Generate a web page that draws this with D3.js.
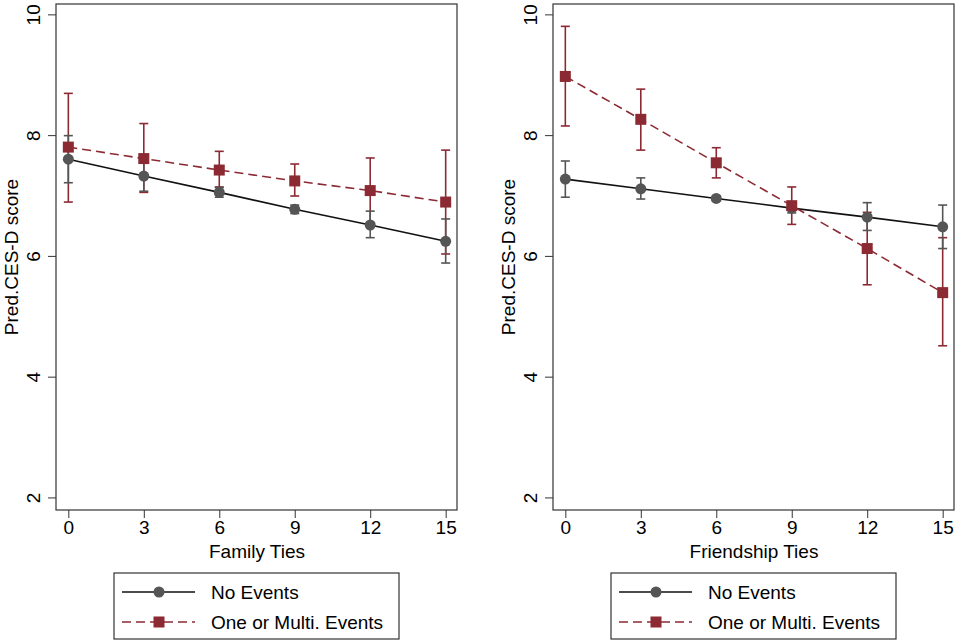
<!DOCTYPE html>
<html>
<head>
<meta charset="utf-8">
<script src="https://cdn.jsdelivr.net/npm/d3@7"></script>
<style>
    body { margin: 0; background: #fff; }
    text { font-family: "Liberation Sans", Arial, sans-serif; fill: #000; }
</style>
</head>
<body>
<script>
// Données
const ties = [0, 3, 6, 9, 12, 15];
const yTicks = [2, 4, 6, 8, 10];
const seriesNames = ["No Events", "One or Multi. Events"];

// Liens familiaux
const familyNoEv = [7.61, 7.33, 7.06, 6.78, 6.52, 6.25];
const familyNoEvLo = [7.22, 7.08, 6.98, 6.71, 6.31, 5.89];
const familyNoEvHi = [8.00, 7.58, 7.14, 6.85, 6.75, 6.62];
const familyEv = [7.81, 7.62, 7.43, 7.25, 7.09, 6.90];
const familyEvLo = [6.90, 7.06, 7.15, 7.00, 6.55, 6.04];
const familyEvHi = [8.70, 8.20, 7.74, 7.53, 7.63, 7.76];

// Liens d'amitié
const friendNoEv = [7.28, 7.12, 6.96, 6.80, 6.65, 6.49];
const friendNoEvLo = [6.98, 6.95, 6.92, 6.72, 6.43, 6.13];
const friendNoEvHi = [7.58, 7.30, 7.00, 6.88, 6.89, 6.85];
const friendEv = [8.98, 8.27, 7.55, 6.84, 6.13, 5.40];
const friendEvLo = [8.16, 7.76, 7.30, 6.53, 5.53, 4.52];
const friendEvHi = [9.81, 8.77, 7.80, 7.15, 6.73, 6.31];

const grayColor = "#555555";
const redColor = "#8C2A33";
const fontSize = 19;

const svg = d3.select("body").append("svg").attr("width", 957).attr("height", 642);

function makeSeries(vals, lo, hi) {
    return ties.map((t, i) => ({ x: t, y: vals[i], lo: lo[i], hi: hi[i] }));
}

function drawPanel(left, xTitle, noEv, ev) {
    const frame = { left: left, right: left + 401, top: 4, bottom: 510 };

    const x = d3.scaleLinear().domain([-0.49, 15.45]).range([frame.left, frame.right]);
    const y = d3.scaleLinear().domain([1.8, 10.18]).range([frame.bottom, frame.top]);

    const g = svg.append("g");

    // Cadre
    g.append("rect")
        .attr("x", frame.left).attr("y", frame.top)
        .attr("width", frame.right - frame.left).attr("height", frame.bottom - frame.top)
        .attr("fill", "none").attr("stroke", "#333").attr("stroke-width", 1.2);

    // Axes
    const yAxis = d3.axisLeft(y).tickValues(yTicks).tickSize(8).tickPadding(4);
    const yG = g.append("g").attr("transform", `translate(${frame.left},0)`).call(yAxis);
    yG.select(".domain").remove();
    yG.selectAll("line").attr("stroke", "#333");
    yG.selectAll("text")
        .attr("font-size", fontSize)
        .attr("text-anchor", "middle")
        .attr("x", null).attr("dy", null)
        .attr("transform", (d) => `translate(-23,${y(d)}) rotate(-90)`)
        .attr("y", 0)
        .attr("dominant-baseline", "central");
    yG.selectAll(".tick").attr("transform", null);
    yG.selectAll(".tick line").attr("y1", (d) => y(d)).attr("y2", (d) => y(d));

    const xAxis = d3.axisBottom(x).tickValues(ties).tickSize(8).tickPadding(3);
    const xG = g.append("g").attr("transform", `translate(0,${frame.bottom})`).call(xAxis);
    xG.select(".domain").remove();
    xG.selectAll("line").attr("stroke", "#333");
    xG.selectAll("text").attr("font-size", fontSize);

    g.append("text")
        .attr("x", x(7.5)).attr("y", 558)
        .attr("text-anchor", "middle").attr("font-size", fontSize)
        .text(xTitle);

    g.append("text")
        .attr("transform", `translate(${left - 45},${(frame.top + frame.bottom) / 2}) rotate(-90)`)
        .attr("text-anchor", "middle").attr("font-size", fontSize)
        .attr("dominant-baseline", "central")
        .text("Pred.CES-D score");

    // Barres d'erreur
    const capW = 4.5;
    function drawErr(data, color) {
        const e = g.append("g").attr("stroke", color).attr("stroke-width", 1.6);
        data.forEach((d) => {
            e.append("line").attr("x1", x(d.x)).attr("x2", x(d.x)).attr("y1", y(d.lo)).attr("y2", y(d.hi));
            e.append("line").attr("x1", x(d.x) - capW).attr("x2", x(d.x) + capW).attr("y1", y(d.lo)).attr("y2", y(d.lo));
            e.append("line").attr("x1", x(d.x) - capW).attr("x2", x(d.x) + capW).attr("y1", y(d.hi)).attr("y2", y(d.hi));
        });
    }
    drawErr(ev, redColor);
    drawErr(noEv, grayColor);

    // Lignes
    const line = d3.line().x((d) => x(d.x)).y((d) => y(d.y));
    g.append("path").datum(noEv).attr("d", line)
        .attr("fill", "none").attr("stroke", "#111").attr("stroke-width", 1.6);
    g.append("path").datum(ev).attr("d", line)
        .attr("fill", "none").attr("stroke", redColor).attr("stroke-width", 1.6)
        .attr("stroke-dasharray", "9,5");

    // Marqueurs
    g.selectAll(".dot").data(noEv).enter().append("circle")
        .attr("cx", (d) => x(d.x)).attr("cy", (d) => y(d.y)).attr("r", 5.5)
        .attr("fill", grayColor);
    g.selectAll(".sq").data(ev).enter().append("rect")
        .attr("x", (d) => x(d.x) - 5.5).attr("y", (d) => y(d.y) - 5.5)
        .attr("width", 11).attr("height", 11)
        .attr("fill", redColor);

    // Légende
    const lx = left + 58;
    const lg = g.append("g").attr("transform", `translate(${lx},573)`);
    lg.append("rect").attr("x", 0).attr("y", 0).attr("width", 285).attr("height", 66)
        .attr("fill", "#fff").attr("stroke", "#333").attr("stroke-width", 1.2);

    lg.append("line").attr("x1", 8).attr("x2", 81).attr("y1", 19).attr("y2", 19)
        .attr("stroke", "#111").attr("stroke-width", 1.6);
    lg.append("circle").attr("cx", 45).attr("cy", 19).attr("r", 5.5).attr("fill", grayColor);
    lg.append("text").attr("x", 97).attr("y", 19).attr("font-size", fontSize)
        .attr("dominant-baseline", "central").text(seriesNames[0]);

    lg.append("line").attr("x1", 8).attr("x2", 81).attr("y1", 49).attr("y2", 49)
        .attr("stroke", redColor).attr("stroke-width", 1.6).attr("stroke-dasharray", "9,5");
    lg.append("rect").attr("x", 39.5).attr("y", 43.5).attr("width", 11).attr("height", 11).attr("fill", redColor);
    lg.append("text").attr("x", 97).attr("y", 49).attr("font-size", fontSize)
        .attr("dominant-baseline", "central").text(seriesNames[1]);
}

drawPanel(56, "Family Ties",
    makeSeries(familyNoEv, familyNoEvLo, familyNoEvHi),
    makeSeries(familyEv, familyEvLo, familyEvHi));

drawPanel(553, "Friendship Ties",
    makeSeries(friendNoEv, friendNoEvLo, friendNoEvHi),
    makeSeries(friendEv, friendEvLo, friendEvHi));
</script>
</body>
</html>
